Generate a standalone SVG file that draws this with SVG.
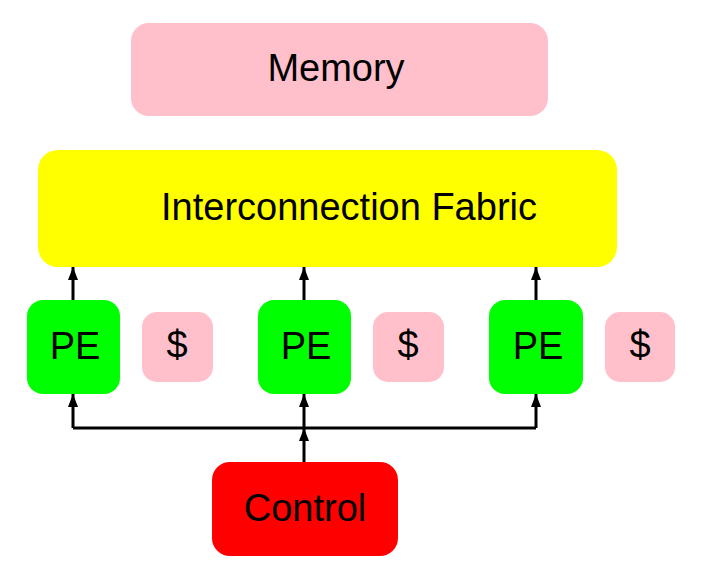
<svg xmlns="http://www.w3.org/2000/svg" width="716" height="575" viewBox="0 0 716 575">
<style>
text{font-family:"Liberation Sans",Arial,sans-serif;font-size:38px;fill:#000}
.c{text-anchor:middle}
.w{stroke:#000;stroke-width:3;fill:none}
</style>
<defs>
<marker id="ah" markerUnits="userSpaceOnUse" markerWidth="12" markerHeight="14" viewBox="0 0 12 14" refX="6" refY="0" orient="auto-start-reverse">
<path d="M0,14 L6,0 L12,14 Z" fill="#000"/>
</marker>
<marker id="up" markerUnits="userSpaceOnUse" markerWidth="10" markerHeight="13" viewBox="0 0 10 13" refX="13" refY="5" orient="auto">
<path d="M0,0 L13,5 L0,10 Z" fill="#000"/>
</marker>
</defs>
<rect width="716" height="575" fill="#fff"/>
<g id="memory"><rect x="131" y="23" width="417" height="93" rx="18" fill="#ffc0cb"/><text class="c" x="336" y="81">Memory</text></g>
<g id="fabric"><rect x="38" y="150" width="579" height="117" rx="20" fill="#ffff00"/><text class="c" x="349" y="220">Interconnection Fabric</text></g>
<g id="pe1"><rect x="27" y="300" width="93" height="94" rx="16" fill="#00ff00"/><text class="c" x="75" y="359">PE</text></g>
<g id="cache1"><rect x="142" y="312" width="71" height="70" rx="15" fill="#ffc0cb"/><text class="c" x="177" y="358">$</text></g>
<g id="pe2"><rect x="258" y="300" width="93" height="94" rx="16" fill="#00ff00"/><text class="c" x="306" y="359">PE</text></g>
<g id="cache2"><rect x="373" y="312" width="71" height="70" rx="15" fill="#ffc0cb"/><text class="c" x="408" y="358">$</text></g>
<g id="pe3"><rect x="489" y="300" width="94" height="94" rx="16" fill="#00ff00"/><text class="c" x="538" y="359">PE</text></g>
<g id="cache3"><rect x="605" y="312" width="70" height="70" rx="15" fill="#ffc0cb"/><text class="c" x="640" y="358">$</text></g>
<g id="control"><rect x="212" y="462" width="186" height="94" rx="18" fill="#ff0000"/><text class="c" x="305" y="521">Control</text></g>
<g id="connectors">
<path class="w" d="M73,300 V267" marker-end="url(#up)"/>
<path class="w" d="M304,300 V267" marker-end="url(#up)"/>
<path class="w" d="M536,300 V267" marker-end="url(#up)"/>
<path class="w" d="M73,428 H536"/>
<path class="w" d="M73,428 V394" marker-end="url(#up)"/>
<path class="w" d="M304,428 V394" marker-end="url(#up)"/>
<path class="w" d="M536,428 V394" marker-end="url(#up)"/>
<path class="w" d="M304,462 V428" marker-end="url(#up)"/>
</g>
</svg>
